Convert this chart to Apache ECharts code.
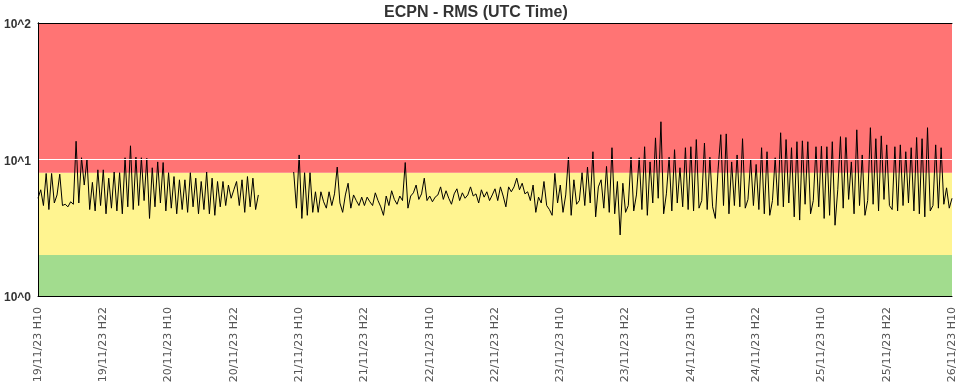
<!DOCTYPE html>
<html>
<head>
<meta charset="utf-8">
<script src="https://cdn.jsdelivr.net/npm/echarts@6/dist/echarts.min.js"></script>
<style>
html,body{margin:0;padding:0;background:#fff;}
#c{width:962px;height:391px;}
</style>
</head>
<body>
<div id="c"></div>
<script>
// ---- Data ----
var chartTitle = 'ECPN - RMS (UTC Time)';
// x tick labels every 12 hours, from 19/11/23 H10 to 26/11/23 H10
var xTickLabels = ['19/11/23 H10','19/11/23 H22','20/11/23 H10','20/11/23 H22','21/11/23 H10','21/11/23 H22',
  '22/11/23 H10','22/11/23 H22','23/11/23 H10','23/11/23 H22','24/11/23 H10','24/11/23 H22',
  '25/11/23 H10','25/11/23 H22','26/11/23 H10'];
var yTickLabels = ['10^0','10^1','10^2'];
var stepHours = 0.5;          // sampling step (hours)
var segAStartHour = 0;        // 19/11/23 10:00
var segBStartHour = 47;       // 21/11/23 09:00
// RMS values, first segment (19/11 10:00 - 21/11 02:30)
var rmsA = [5.2, 6.0, 4.6, 7.9, 4.3, 7.9, 4.8, 5.5, 7.8, 4.6,
  4.7, 4.5, 4.9, 4.7, 13.6, 4.8, 10.3, 6.5, 10.0, 4.3,
  6.8, 4.2, 8.4, 4.6, 8.4, 4.0, 7.3, 4.4, 8.1, 4.2,
  8.0, 4.0, 10.3, 4.5, 12.6, 4.3, 10.4, 4.6, 10.3, 5.0,
  10.2, 3.7, 8.7, 4.5, 9.6, 4.8, 9.5, 4.2, 8.0, 4.4,
  7.5, 4.0, 7.1, 4.3, 7.1, 4.1, 8.0, 4.5, 7.3, 4.0,
  6.9, 4.3, 8.1, 4.0, 7.3, 3.9, 6.9, 4.5, 6.9, 4.6,
  6.5, 5.2, 6.0, 6.9, 4.6, 7.1, 4.1, 7.5, 4.5, 7.3,
  4.3, 5.5];
// RMS values, second segment (21/11 09:00 - 26/11 10:00)
var rmsB = [8.1, 4.4, 10.8, 3.7, 8.0, 3.9,
  8.0, 4.1, 5.8, 4.1, 5.8, 4.9, 4.4, 5.8, 4.6, 5.6,
  8.8, 4.8, 4.1, 5.5, 6.7, 4.4, 5.5, 5.0, 4.6, 5.3,
  4.6, 5.3, 4.9, 4.6, 5.7, 5.0, 4.5, 3.9, 5.4, 4.6,
  5.9, 5.1, 4.7, 5.4, 5.0, 9.5, 4.4, 5.4, 5.7, 6.5,
  5.1, 5.6, 7.3, 5.0, 5.4, 4.9, 5.3, 5.5, 6.3, 5.1,
  5.9, 5.2, 4.7, 5.6, 6.1, 5.0, 5.7, 5.2, 5.5, 6.3,
  5.4, 5.6, 4.8, 6.0, 5.3, 5.8, 5.0, 5.5, 6.1, 5.0,
  6.3, 5.4, 4.5, 6.3, 5.8, 6.3, 7.3, 6.0, 6.7, 5.6,
  5.8, 5.0, 6.5, 4.1, 5.3, 4.8, 6.9, 4.6, 4.3, 3.9,
  7.9, 4.8, 6.5, 4.1, 5.5, 10.4, 3.9, 7.1, 4.7, 5.0,
  8.0, 4.6, 8.8, 4.8, 11.4, 3.8, 6.3, 7.1, 4.4, 8.9,
  4.1, 12.2, 4.0, 6.9, 2.8, 6.7, 4.1, 4.6, 10.4, 4.2,
  5.5, 10.3, 4.3, 12.4, 3.9, 9.6, 4.8, 14.4, 5.2, 18.9,
  4.0, 5.6, 10.4, 4.2, 11.8, 4.8, 8.7, 4.5, 12.2, 4.3,
  12.4, 4.2, 14.0, 4.4, 5.0, 13.2, 4.3, 10.4, 4.5, 3.7,
  8.4, 15.2, 4.6, 15.4, 4.0, 9.6, 4.6, 10.8, 4.5, 14.2,
  4.4, 5.1, 10.0, 4.6, 9.2, 4.3, 12.2, 4.0, 11.4, 3.9,
  5.0, 10.3, 4.6, 15.7, 4.5, 14.0, 4.8, 12.2, 3.8, 13.5,
  3.6, 13.7, 4.7, 13.5, 4.0, 5.0, 12.4, 4.5, 12.5, 3.7,
  12.4, 3.9, 13.5, 3.3, 6.0, 14.7, 4.4, 14.5, 5.1, 9.6,
  4.0, 16.5, 4.6, 10.8, 3.9, 5.0, 17.1, 4.7, 14.2, 4.2,
  14.9, 5.1, 12.8, 4.6, 4.3, 12.4, 4.2, 12.8, 4.6, 11.4,
  4.8, 12.2, 4.2, 14.5, 4.0, 14.2, 3.8, 17.1, 4.2, 4.6,
  12.8, 4.4, 12.2, 4.7, 6.2, 4.4, 5.2];
// Alert bands (RMS thresholds) and threshold line
var bandBounds = [1, 2, 8, 100];
var bandColors = ['#a2dc8e', '#fff490', '#ff7474'];
var refLine = 10;

// ---- Build ----
var lineData = [];
rmsA.forEach(function (v, k) { lineData.push([segAStartHour + k * stepHours, v]); });
lineData.push([(segAStartHour + rmsA.length * stepHours + segBStartHour) / 2, '-']);
rmsB.forEach(function (v, k) { lineData.push([segBStartHour + k * stepHours, v]); });

var areas = [];
for (var b = 0; b < bandColors.length; b++) {
  areas.push([{ yAxis: bandBounds[b], itemStyle: { color: bandColors[b] } }, { yAxis: bandBounds[b + 1] }]);
}

var chart = echarts.init(document.getElementById('c'), null, { renderer: 'canvas' });
var borderAxisLine = { show: true, lineStyle: { color: '#000', width: 1 } };
chart.setOption({
  animation: false,
  backgroundColor: '#fff',
  title: {
    text: chartTitle, left: 379, top: 0,
    textStyle: { fontFamily: 'Liberation Sans, Arial, sans-serif', fontSize: 16, fontWeight: 'bold', color: '#333' }
  },
  grid: { left: 38, right: 10, top: 23, bottom: 95, containLabel: false },
  xAxis: [{
    type: 'value', min: 0, max: 168, interval: 12, position: 'bottom', z: 5,
    axisLine: borderAxisLine, axisTick: { show: false }, splitLine: { show: false },
    axisLabel: {
      rotate: 90, margin: 11, color: '#555', fontSize: 11, fontFamily: 'DejaVu Sans, Verdana, sans-serif',
      formatter: function (v) { return xTickLabels[Math.round(v / 12)] || ''; }
    }
  }, {
    type: 'value', min: 0, max: 168, position: 'top', z: 5,
    axisLine: borderAxisLine, axisTick: { show: false }, axisLabel: { show: false }, splitLine: { show: false }
  }],
  yAxis: [{
    type: 'log', logBase: 10, min: 1, max: 100, position: 'left', z: 5,
    axisLine: borderAxisLine, axisTick: { show: false }, splitLine: { show: false },
    axisLabel: {
      margin: 7, color: '#333', fontSize: 12, fontWeight: 'bold', fontFamily: 'Liberation Sans, Arial, sans-serif',
      formatter: function (v) { return '{t|' + (yTickLabels[Math.round(Math.log10(v))] || '') + '}'; },
      rich: {
        t: { color: '#333', fontSize: 12, fontWeight: 'bold', fontFamily: 'Liberation Sans, Arial, sans-serif', padding: [4, 0, 0, 0] }
      }
    }
  }, {
    type: 'value', min: 0, max: 1, position: 'right', z: 5,
    axisLine: borderAxisLine, axisTick: { show: false }, axisLabel: { show: false }, splitLine: { show: false }
  }],
  series: [{
    type: 'line', name: 'bands', data: [], z: 1, silent: true,
    markArea: { silent: true, data: areas },
    markLine: {
      silent: true, symbol: ['none', 'none'], label: { show: false },
      lineStyle: { color: '#ffffff', width: 1, type: 'solid' },
      data: [{ yAxis: refLine }]
    }
  }, {
    type: 'line', name: 'RMS', data: lineData, z: 3, showSymbol: false, connectNulls: false,
    lineStyle: { color: '#000', width: 1 }, itemStyle: { color: '#000' }
  }]
});
</script>
</body>
</html>
